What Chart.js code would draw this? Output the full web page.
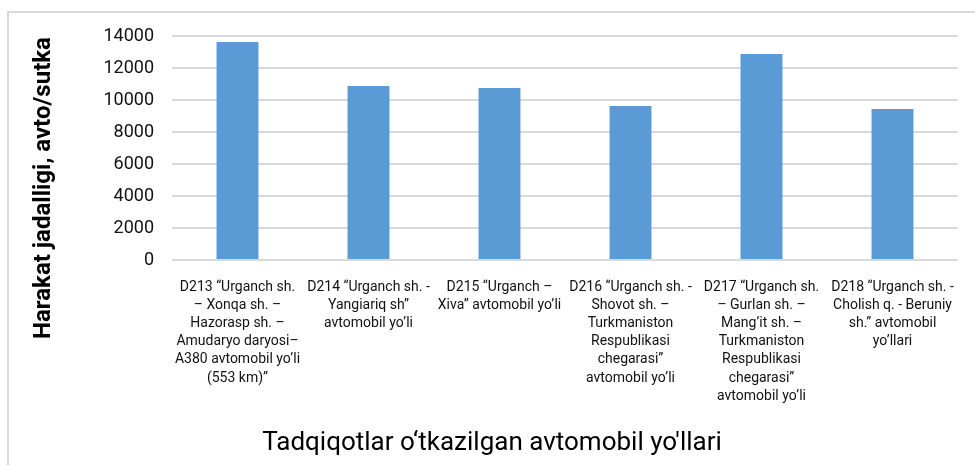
<!DOCTYPE html>
<html>
<head>
<meta charset="utf-8">
<script src="https://cdn.jsdelivr.net/npm/chart.js@4"></script>
<style>
  html, body { margin: 0; padding: 0; background: #fff; }
  #wrap { width: 975px; height: 465px; }
</style>
</head>
<body>
<div id="wrap"><canvas id="trafficChart" width="975" height="465"></canvas></div>
<script>
// road names, one line per row as in the source figure
const roads = [
  ['D213 “Urganch sh.', '– Xonqa sh. –', 'Hazorasp sh. –', 'Amudaryo daryosi–', 'A380 avtomobil yo’li', '(553 km)”'],
  ['D214 “Urganch sh. -', 'Yangiariq sh”', 'avtomobil yo’li'],
  ['D215 “Urganch –', 'Xiva” avtomobil yo’li'],
  ['D216 “Urganch sh. -', 'Shovot sh. –', 'Turkmaniston', 'Respublikasi', 'chegarasi”', 'avtomobil yo’li'],
  ['D217 “Urganch sh.', '– Gurlan sh. –', 'Mang’it sh. –', 'Turkmaniston', 'Respublikasi', 'chegarasi”', 'avtomobil yo’li'],
  ['D218 “Urganch sh. -', 'Cholish q. - Beruniy', 'sh.” avtomobil', 'yo’llari']
];
const traffic = [13620, 10870, 10750, 9630, 12870, 9440];
const yTicks = [0, 2000, 4000, 6000, 8000, 10000, 12000, 14000];

const yTitle = 'Harakat jadalligi, avto/sutka';
const xTitle = 'Tadqiqotlar o‘tkazilgan avtomobil yo\'llari';

// frame + axis titles
const decor = {
  id: 'decor',
  beforeDraw(chart) {
    const c = chart.ctx;
    c.save();
    c.strokeStyle = '#d9d9d9';
    c.lineWidth = 2;
    c.beginPath();
    c.moveTo(8, 465);
    c.lineTo(8, 12);
    c.lineTo(975, 12);
    c.stroke();
    c.restore();
  },
  afterDraw(chart) {
    const c = chart.ctx;
    c.save();
    c.fillStyle = '#000';
    c.textAlign = 'center';
    c.textBaseline = 'middle';
    c.font = 'bold 24px Roboto';
    c.translate(44, 188);
    c.rotate(-Math.PI / 2);
    c.fillText(yTitle, 0, 0);
    c.restore();

    c.save();
    c.fillStyle = '#000';
    c.textAlign = 'center';
    c.textBaseline = 'middle';
    c.font = '26px Roboto';
    c.fillText(xTitle, 492, 443);
    c.restore();
  }
};

const ctx = document.getElementById('trafficChart').getContext('2d');
new Chart(ctx, {
  type: 'bar',
  data: {
    labels: roads,
    datasets: [{
      label: yTitle,
      data: traffic,
      backgroundColor: '#5b9bd5',
      barPercentage: 0.32,
      categoryPercentage: 1
    }]
  },
  options: {
    responsive: false,
    animation: false,
    layout: { padding: { top: 36, right: 17, left: 0, bottom: 0 } },
    scales: {
      x: {
        afterFit(scale) { scale.height = 205; },
        grid: { display: false, drawTicks: false },
        border: { display: false },
        ticks: {
          autoSkip: false,
          maxRotation: 0,
          minRotation: 0,
          padding: 18,
          color: '#111',
          font: { family: 'Roboto', size: 14, lineHeight: 1.3 }
        }
      },
      y: {
        min: 0,
        max: 14000,
        afterFit(scale) { scale.width = 172; },
        afterBuildTicks(scale) { scale.ticks = yTicks.map(v => ({ value: v })); },
        grid: { color: '#d9d9d9', lineWidth: 2, drawTicks: false },
        border: { display: false },
        ticks: {
          padding: 18,
          color: '#111',
          font: { family: 'Roboto', size: 18 },
          callback: v => String(v)
        }
      }
    },
    plugins: {
      legend: { display: false },
      tooltip: { enabled: false }
    }
  },
  plugins: [decor]
});
</script>
</body>
</html>
